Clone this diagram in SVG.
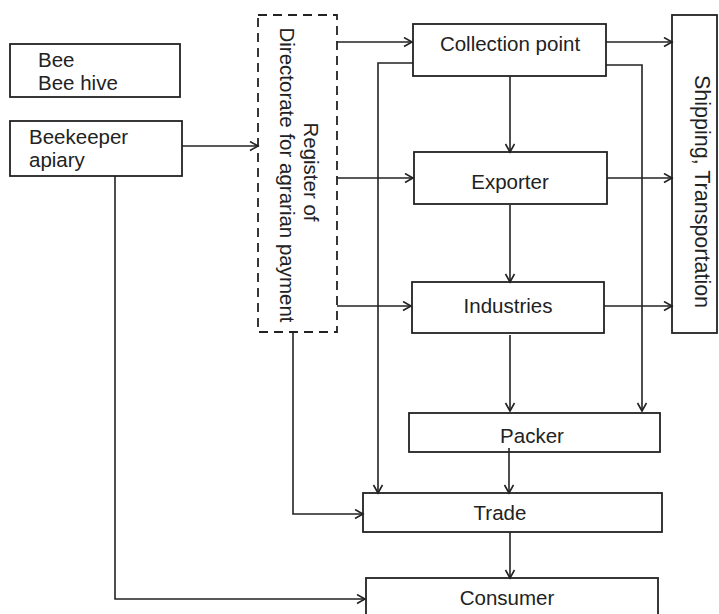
<svg xmlns="http://www.w3.org/2000/svg" width="719" height="614" viewBox="0 0 719 614">
<defs>
<marker id="arr" markerUnits="userSpaceOnUse" markerWidth="12" markerHeight="12" refX="9" refY="5" orient="auto">
<path d="M1,0.5 L9,5 L1,9.5" fill="none" stroke="#222" stroke-width="1.6"/>
</marker>
<style>
.box{fill:#fff;stroke:#222;stroke-width:1.8}
.dash{fill:#fff;stroke:#222;stroke-width:1.8;stroke-dasharray:9 6}
.t{font-family:"Liberation Sans",Arial,sans-serif;font-size:20.5px;fill:#222}
.m{text-anchor:middle}
.c{fill:none;stroke:#222;stroke-width:1.6;marker-end:url(#arr)}
</style>
</defs>
<rect width="719" height="614" fill="#fff"/>
<g id="bee">
<rect class="box" x="10" y="44" width="170" height="53"/>
<text class="t" x="38" y="67">Bee</text>
<text class="t" x="38" y="90">Bee hive</text>
</g>
<g id="beekeeper">
<rect class="box" x="10" y="121" width="172" height="55"/>
<text class="t" x="29" y="144">Beekeeper</text>
<text class="t" x="29" y="167">apiary</text>
</g>
<g id="register">
<rect class="dash" x="258" y="15" width="79" height="317"/>
<text class="t m" transform="translate(304,172) rotate(90)">Register of</text>
<text class="t m" transform="translate(280,175) rotate(90)">Directorate for agrarian payment</text>
</g>
<g id="collection">
<rect class="box" x="413" y="24" width="193" height="52"/>
<text class="t m" x="510" y="51">Collection point</text>
</g>
<g id="exporter">
<rect class="box" x="414" y="152" width="193" height="52"/>
<text class="t m" x="510" y="189">Exporter</text>
</g>
<g id="industries">
<rect class="box" x="412" y="282" width="192" height="51"/>
<text class="t m" x="508" y="313">Industries</text>
</g>
<g id="shipping">
<rect class="box" x="672" y="15" width="45" height="318"/>
<text class="t" style="font-size:21.5px" transform="translate(695,75) rotate(90)">Shipping, Transportation</text>
</g>
<g id="packer">
<rect class="box" x="409" y="413" width="251" height="39"/>
<text class="t m" x="532" y="443">Packer</text>
</g>
<g id="trade">
<rect class="box" x="363" y="493" width="299" height="39"/>
<text class="t m" x="500" y="520">Trade</text>
</g>
<g id="consumer">
<rect class="box" x="366" y="578" width="292" height="50"/>
<text class="t m" x="507" y="605">Consumer</text>
</g>
<g id="connectors">
<path class="c" d="M182,146 H258"/>
<path class="c" d="M115,176 V599 H365"/>
<path class="c" d="M337,42 H412"/>
<path class="c" d="M337,178 H413"/>
<path class="c" d="M337,306 H411"/>
<path class="c" d="M606,42 H672"/>
<path class="c" d="M607,178 H672"/>
<path class="c" d="M604,306 H672"/>
<path class="c" d="M510,76 V152"/>
<path class="c" d="M510,205 V282"/>
<path class="c" d="M510,335 V411"/>
<path class="c" d="M413,63 H378 V493"/>
<path class="c" d="M606,65 H642 V411"/>
<path class="c" d="M509,448 V493"/>
<path class="c" d="M293,332 V514 H363"/>
<path class="c" d="M510,532 V578"/>
</g>
</svg>
